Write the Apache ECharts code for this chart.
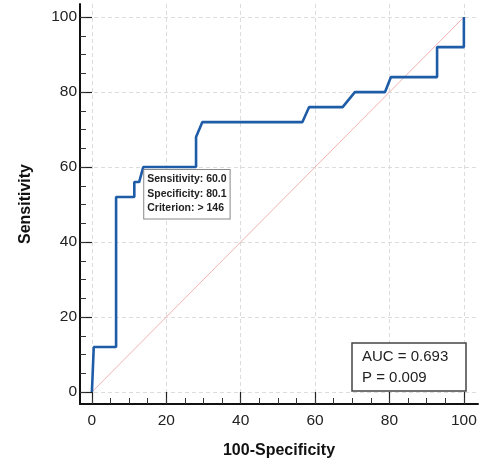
<!DOCTYPE html>
<html>
<head>
<meta charset="utf-8">
<script src="https://cdn.jsdelivr.net/npm/echarts@6/dist/echarts.min.js"></script>
<style>
  html, body { margin: 0; padding: 0; background: #fff; }
  #chart { width: 483px; height: 464px; }
</style>
</head>
<body>
<div id="chart"></div>
<script>
// ROC 曲线点 [100-Specificity, Sensitivity]
const rocPoints = [
  [0, 0], [0.5, 0], [0.5, 12], [6.5, 12], [6.5, 52], [11.4, 52], [11.4, 56],
  [12.7, 56], [13.8, 60], [28, 60], [28, 68], [29.7, 72], [56.6, 72], [58.4, 76],
  [67.4, 76], [70.7, 80], [78.8, 80], [80.4, 84], [92.8, 84], [92.8, 92],
  [100, 92], [100, 100]
]
const refLine = [[0, 0], [100, 100]]
const majorTicks = [0, 20, 40, 60, 80, 100]
const minorTicks = [0, 5, 10, 15, 20, 25, 30, 35, 40, 45, 50, 55, 60, 65, 70, 75, 80, 85, 90, 95, 100]
const cutPoint = [13.8, 60]
const cutText = ['Sensitivity: 60.0', 'Specificity: 80.1', 'Criterion: > 146']
const aucText = ['AUC = 0.693', 'P = 0.009']

const font = '"Liberation Sans", Arial, sans-serif'

let chart = echarts.init(document.getElementById('chart'))

function majorAxis(name, isX) {
  return {
    type: 'value',
    min: -3.2,
    max: isX ? 103.8 : 103.5,
    name: name,
    nameLocation: 'middle',
    nameGap: isX ? 39 : 46,
    nameTextStyle: { fontFamily: font, fontWeight: 'bold', fontSize: 16, color: '#111' },
    axisLine: { onZero: false, lineStyle: { color: '#111', width: 2 } },
    axisTick: { inside: true, length: 12, customValues: majorTicks, lineStyle: { color: '#222', width: 1.2 } },
    axisLabel: { customValues: majorTicks, fontFamily: font, fontSize: 15.5, color: '#222', margin: isX ? 9 : 3 },
    splitLine: { show: true, lineStyle: { color: '#dcdcdc', type: [4, 3], width: 1 } }
  }
}
function minorAxis(isX) {
  return {
    type: 'value',
    min: -3.2,
    max: isX ? 103.8 : 103.5,
    position: isX ? 'bottom' : 'left',
    axisLine: { show: false, onZero: false },
    axisTick: { inside: true, length: 6, customValues: minorTicks, lineStyle: { color: '#333', width: 1 } },
    axisLabel: { show: false },
    splitLine: { show: false }
  }
}

let option = {
  animation: false,
  backgroundColor: '#fff',
  title: {
    text: aucText.join('\n'),
    left: 352,
    top: 343,
    padding: [3, 18, 3, 10],
    borderColor: '#444',
    borderWidth: 1.5,
    backgroundColor: '#fff',
    textStyle: { fontFamily: font, fontWeight: 'normal', fontSize: 15, lineHeight: 21, color: '#222' }
  },
  grid: { left: 80, right: 5, top: 4, bottom: 60, containLabel: false },
  xAxis: [majorAxis('100-Specificity', true), minorAxis(true)],
  yAxis: [majorAxis('Sensitivity', false), minorAxis(false)],
  series: [
    {
      type: 'line',
      data: refLine,
      showSymbol: false,
      silent: true,
      lineStyle: { color: '#f1b3b3', width: 1 }
    },
    {
      type: 'line',
      data: rocPoints,
      showSymbol: false,
      lineStyle: { color: '#1f5ca8', width: 2.6 },
      markPoint: {
        symbol: 'rect',
        symbolSize: 0,
        data: [{
          coord: cutPoint,
          label: {
            show: true,
            position: [1, 3],
            align: 'left',
            verticalAlign: 'top',
            formatter: cutText.join('\n'),
            fontFamily: font,
            fontWeight: 'bold',
            fontSize: 10.5,
            lineHeight: 14.5,
            color: '#222',
            backgroundColor: '#fff',
            borderColor: '#888',
            borderWidth: 1,
            padding: [2, 3, 3, 3]
          }
        }]
      }
    }
  ]
}
chart.setOption(option)
</script>
</body>
</html>
